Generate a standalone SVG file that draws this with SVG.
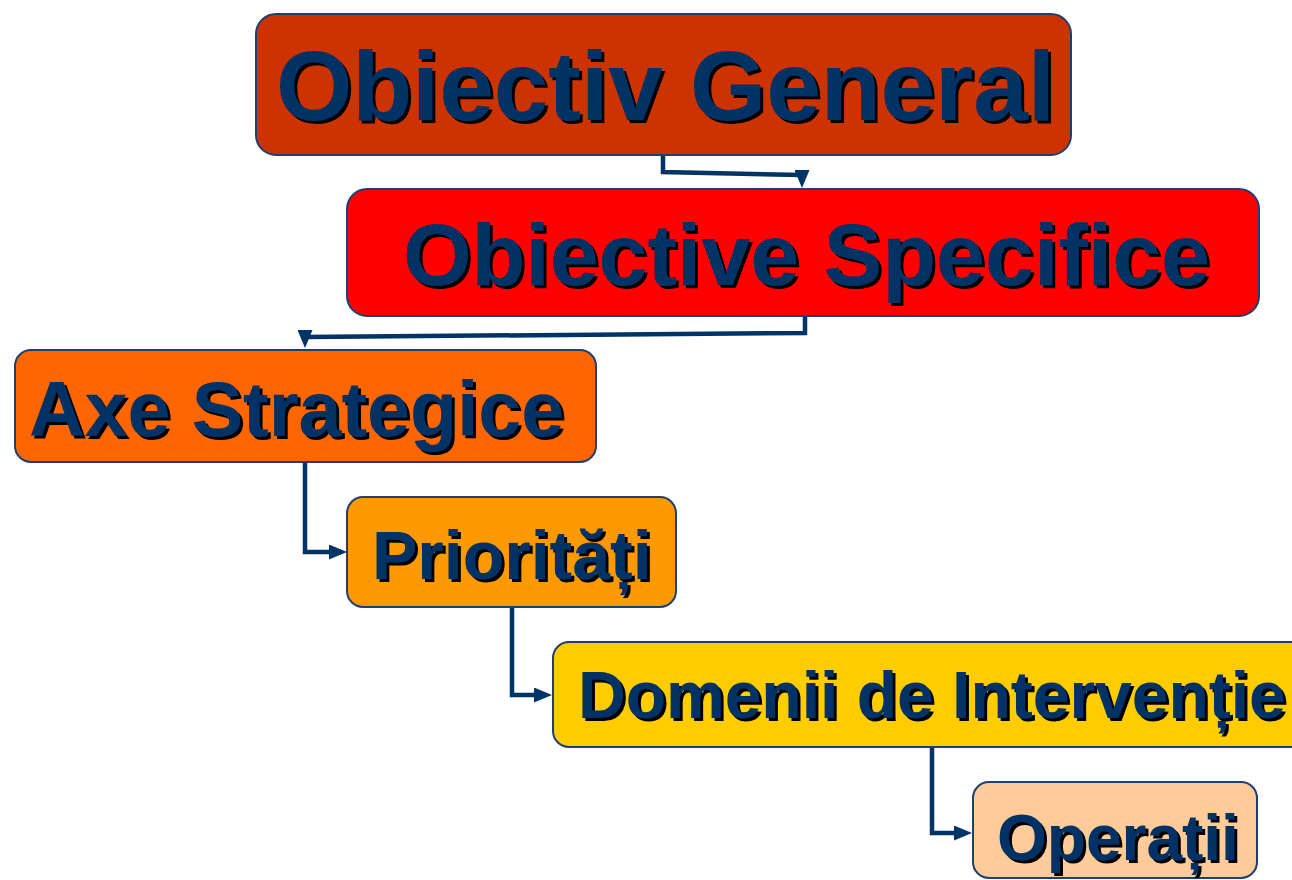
<svg xmlns="http://www.w3.org/2000/svg" width="1292" height="880" viewBox="0 0 1292 880">
<style>
.box{stroke:#1F3F6F;stroke-width:2}
.t{font-family:"Liberation Sans",Arial,sans-serif;font-weight:bold;fill:#003366;filter:url(#shadow)}
.con{fill:none;stroke:#003366;stroke-width:4.5;stroke-linejoin:miter}
</style>
<defs>
<filter id="shadow" x="-5%" y="-20%" width="115%" height="150%">
<feOffset in="SourceAlpha" dx="3" dy="3" result="off"/>
<feFlood flood-color="#000000"/>
<feComposite in2="off" operator="in" result="sh"/>
<feMerge><feMergeNode in="sh"/><feMergeNode in="SourceGraphic"/></feMerge>
</filter>
<marker id="arr" viewBox="0 0 18 15" markerWidth="18" markerHeight="15" refX="10" refY="7.5" orient="auto" markerUnits="userSpaceOnUse">
<path d="M0,0 L18,7.5 L0,15 Z" fill="#003366"/>
</marker>
</defs>
<rect width="1292" height="880" fill="#FFFFFF"/>
<g id="connectors">
<path class="con" d="M663,155 V172 L802,175 V180" marker-end="url(#arr)"/>
<path class="con" d="M805,316 V333 L305,337 V340" marker-end="url(#arr)"/>
<path class="con" d="M305,462 V552 H339" marker-end="url(#arr)"/>
<path class="con" d="M512,607 V695 H544" marker-end="url(#arr)"/>
<path class="con" d="M932,747 V833 H964" marker-end="url(#arr)"/>
</g>
<g id="obiectiv-general">
<rect class="box" x="256" y="14" width="815" height="141" rx="20" fill="#CC3300"/>
<text class="t" x="276" y="120" font-size="98">Obiectiv General</text>
</g>
<g id="obiective-specifice">
<rect class="box" x="347" y="189" width="912" height="127" rx="20" fill="#FF0000"/>
<text class="t" x="403" y="285" font-size="88">Obiective Specifice</text>
</g>
<g id="axe-strategice">
<rect class="box" x="15" y="350" width="581" height="112" rx="16" fill="#FF6600"/>
<text class="t" x="29" y="436" font-size="77">Axe Strategice</text>
</g>
<g id="prioritati">
<rect class="box" x="347" y="497" width="329" height="110" rx="16" fill="#FF9900"/>
<text class="t" x="372" y="579" font-size="68">Priorități</text>
</g>
<g id="domenii-de-interventie">
<rect class="box" x="553" y="642" width="760" height="105" rx="16" fill="#FFCC00"/>
<text class="t" x="578" y="718" font-size="66">Domenii de Intervenție</text>
</g>
<g id="operatii">
<rect class="box" x="973" y="782" width="284" height="96" rx="16" fill="#FFCC99"/>
<text class="t" x="997" y="860" font-size="64">Operații</text>
</g>
</svg>
